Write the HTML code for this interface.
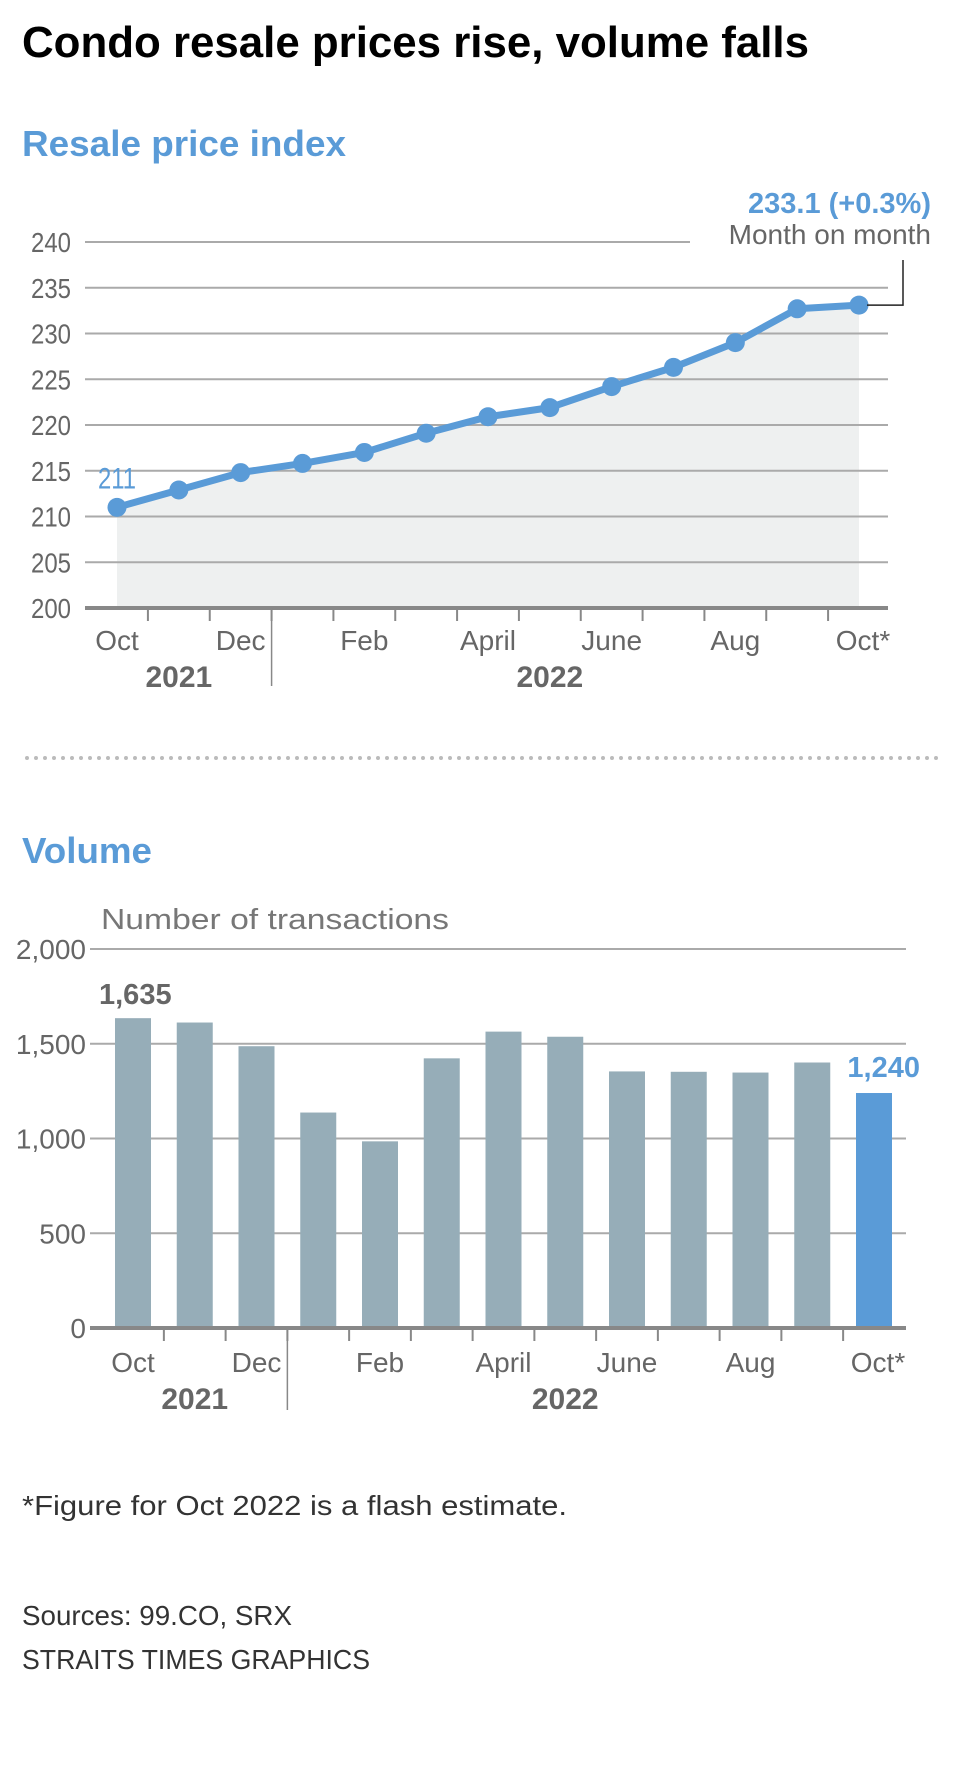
<!DOCTYPE html>
<html><head><meta charset="utf-8">
<style>
html,body{margin:0;padding:0;background:#fff;}
svg{display:block;}
text{font-family:"Liberation Sans Narrow","Liberation Sans",sans-serif;}
</style></head>
<body>
<svg id="s" width="960" height="1774" viewBox="0 0 960 1774" xmlns="http://www.w3.org/2000/svg">
<text x="22" y="57" font-size="44" font-weight="bold" fill="#000" textLength="787" lengthAdjust="spacingAndGlyphs">Condo resale prices rise, volume falls</text>
<text x="22" y="156" font-size="36" font-weight="bold" fill="#5a9bd7" textLength="324" lengthAdjust="spacingAndGlyphs">Resale price index</text>
<g id="c1"></g>
<line x1="27" y1="758" x2="941" y2="758" stroke="#bbb" stroke-width="4" stroke-linecap="round" stroke-dasharray="0 9"/>
<text x="22" y="863" font-size="36" font-weight="bold" fill="#5a9bd7" textLength="130" lengthAdjust="spacingAndGlyphs">Volume</text>
<text x="101" y="929" font-size="29" fill="#777" textLength="348" lengthAdjust="spacingAndGlyphs">Number of transactions</text>
<g id="c2"></g>
<text x="22" y="1515" font-size="28" fill="#333" textLength="545" lengthAdjust="spacingAndGlyphs">*Figure for Oct 2022 is a flash estimate.</text>
<text x="22" y="1625" font-size="28" fill="#333" textLength="270" lengthAdjust="spacingAndGlyphs">Sources: 99.CO, SRX</text>
<text x="22" y="1669" font-size="28" fill="#333" textLength="348" lengthAdjust="spacingAndGlyphs">STRAITS TIMES GRAPHICS</text>
</svg>
<script>
const months = ["Oct","Nov","Dec","Jan","Feb","Mar","April","May","June","July","Aug","Sep","Oct*"];
const monthLabelIdx = [0,2,4,6,8,10,12];
const priceValues = [211,212.9,214.8,215.8,217,219.1,220.9,221.9,224.2,226.3,229,232.7,233.1];
const priceTicks = [200,205,210,215,220,225,230,235,240];
const volumeValues = [1635,1612,1487,1137,985,1423,1564,1537,1354,1352,1348,1401,1240];
const volumeTicks = [0,500,1000,1500,2000];
const volumeTickLabels = ["0","500","1,000","1,500","2,000"];
const years = ["2021","2022"];

const NS="http://www.w3.org/2000/svg";
function mk(parent,tag,attrs,txt){const e=document.createElementNS(NS,tag);for(const k in attrs)e.setAttribute(k,attrs[k]);if(txt!==undefined)e.textContent=txt;parent.appendChild(e);return e;}
const GRAY="#666", BLUE="#5a9bd7";
const TICKFS=28;

// ---------- chart 1 ----------
const c1=document.getElementById('c1');
const x1=i=>117+i*(859-117)/(months.length-1);
const y1=v=>608-(v-200)*(608-242)/40;
let area='M'+x1(0)+','+y1(200);
priceValues.forEach((v,i)=>{area+=' L'+x1(i)+','+y1(v);});
area+=' L'+x1(priceValues.length-1)+','+y1(200)+' Z';
const ar=mk(c1,'path',{d:area,fill:'#eef0f0'});


priceTicks.forEach(t=>{
  const l=mk(c1,'line',{x1:85,x2:t===240?690:888,y1:y1(t),y2:y1(t),stroke:t===200?'#888':'#aaa','stroke-width':t===200?4:2});
  
  
  const tx=mk(c1,'text',{x:71,y:y1(t)+10,'text-anchor':'end','font-size':TICKFS,fill:GRAY,textLength:40,lengthAdjust:'spacingAndGlyphs'},String(t));
  
  
});
const pts=priceValues.map((v,i)=>x1(i)+','+y1(v)).join(' ');
const pl=mk(c1,'polyline',{points:pts,fill:'none',stroke:BLUE,'stroke-width':7,'stroke-linejoin':'round'});


priceValues.forEach((v,i)=>{
  const c=mk(c1,'circle',{cx:x1(i),cy:y1(v),r:9.5,fill:BLUE});
  
  
});
for(let i=0;i<months.length-1;i++){
  const xm=(x1(i)+x1(i+1))/2;
  const tk=mk(c1,'line',{x1:xm,x2:xm,y1:y1(200),y2:y1(200)+13,stroke:'#888','stroke-width':2});
  
  
}
const sep1=mk(c1,'line',{x1:(x1(2)+x1(3))/2,x2:(x1(2)+x1(3))/2,y1:y1(200),y2:686,stroke:'#888','stroke-width':1.5});


monthLabelIdx.forEach(i=>{
  const t=mk(c1,'text',{x:x1(i)+(i===12?4:0),y:650,'text-anchor':'middle','font-size':TICKFS,fill:GRAY},months[i]);
  
  
});
const yr1=mk(c1,'text',{x:x1(1),y:687,'text-anchor':'middle','font-size':30,'font-weight':'bold',fill:GRAY},years[0]);


const yr2=mk(c1,'text',{x:x1(7),y:687,'text-anchor':'middle','font-size':30,'font-weight':'bold',fill:GRAY},years[1]);


const fl=mk(c1,'text',{x:x1(0)-19,y:y1(priceValues[0])-19,'font-size':30,fill:BLUE,textLength:38,lengthAdjust:'spacingAndGlyphs'},String(priceValues[0]));


const last=priceValues[priceValues.length-1];
const an1=mk(c1,'text',{x:931,y:213,'text-anchor':'end','font-size':29,'font-weight':'bold',fill:BLUE},last.toFixed(1)+' (+0.3%)');


const an2=mk(c1,'text',{x:931,y:244,'text-anchor':'end','font-size':28,fill:GRAY},'Month on month');


const ld=mk(c1,'polyline',{points:'903,260 903,'+y1(last)+' '+(x1(12)+8)+','+y1(last),fill:'none',stroke:'#222','stroke-width':1.5});



// ---------- chart 2 ----------
const c2=document.getElementById('c2');
const x2=i=>133+i*(874-133)/(volumeValues.length-1);
const y2=v=>1328-v*(1328-949)/2000;
volumeTicks.forEach((t,k)=>{
  const l=mk(c2,'line',{x1:90,x2:906,y1:y2(t),y2:y2(t),stroke:'#aaa','stroke-width':2});
  
  
  const tx=mk(c2,'text',{x:86,y:y2(t)+10,'text-anchor':'end','font-size':TICKFS,fill:GRAY},volumeTickLabels[k]);
  
  
});
volumeValues.forEach((v,i)=>{
  const r=mk(c2,'rect',{x:x2(i)-18,y:y2(v),width:36,height:y2(0)-y2(v),fill:i===volumeValues.length-1?BLUE:'#96adb8'});
  
  
});
const b2=mk(c2,'line',{x1:90,x2:906,y1:y2(0),y2:y2(0),stroke:'#888','stroke-width':4});


for(let i=0;i<volumeValues.length-1;i++){
  const xm=(x2(i)+x2(i+1))/2;
  const tk=mk(c2,'line',{x1:xm,x2:xm,y1:y2(0),y2:y2(0)+13,stroke:'#888','stroke-width':2});
  
  
}
const sep2=mk(c2,'line',{x1:(x2(2)+x2(3))/2,x2:(x2(2)+x2(3))/2,y1:y2(0),y2:1410,stroke:'#888','stroke-width':1.5});


monthLabelIdx.forEach(i=>{
  const t=mk(c2,'text',{x:x2(i)+(i===12?4:0),y:1372,'text-anchor':'middle','font-size':TICKFS,fill:GRAY},months[i]);
  
  
});
const vy1=mk(c2,'text',{x:x2(1),y:1409,'text-anchor':'middle','font-size':30,'font-weight':'bold',fill:GRAY},years[0]);


const vy2=mk(c2,'text',{x:x2(7),y:1409,'text-anchor':'middle','font-size':30,'font-weight':'bold',fill:GRAY},years[1]);


const fmt=v=>v.toLocaleString('en-US');
const vl1=mk(c2,'text',{x:x2(0)-34,y:y2(volumeValues[0])-14,'font-size':29,'font-weight':'bold',fill:GRAY},fmt(volumeValues[0]));


const vl2=mk(c2,'text',{x:920,y:y2(volumeValues[12])-16,'text-anchor':'end','font-size':29,'font-weight':'bold',fill:BLUE},fmt(volumeValues[12]));


</script>
</body></html>
